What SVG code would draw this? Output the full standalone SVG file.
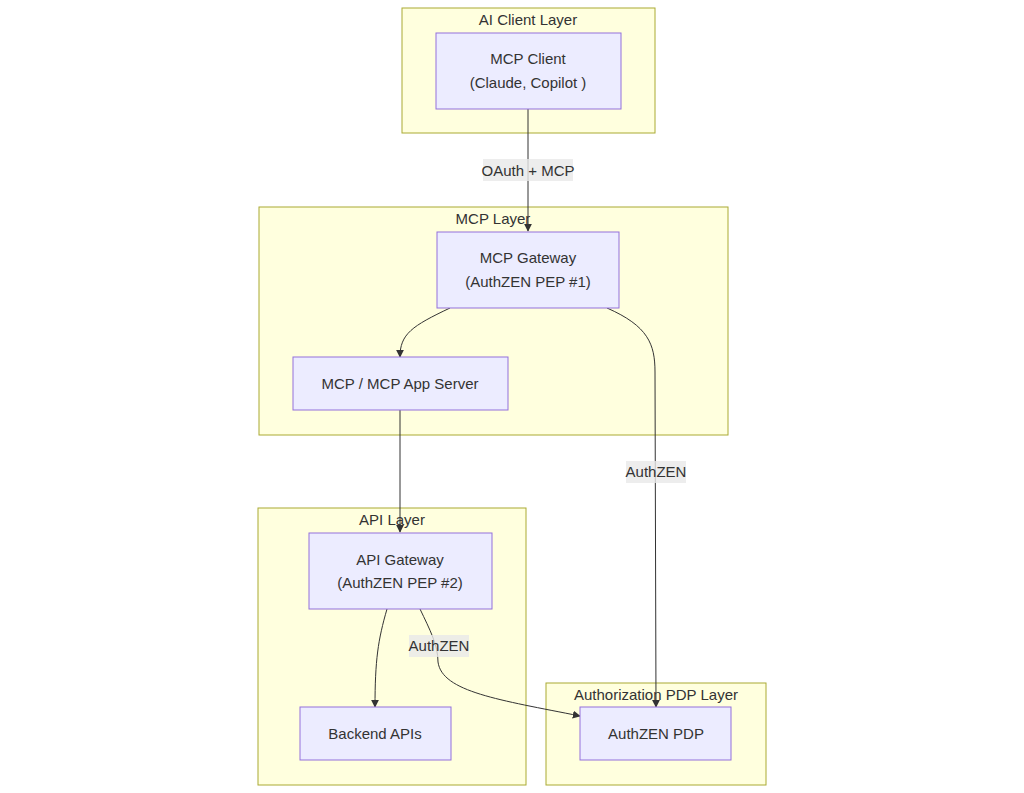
<svg xmlns="http://www.w3.org/2000/svg" width="1024" height="793" viewBox="0 0 1024 793">
<style>
.cluster{fill:#ffffde;stroke:#aaaa33;stroke-width:1}
.node{fill:#ECECFF;stroke:#9370DB;stroke-width:1}
text{font-family:"Liberation Sans",Arial,sans-serif;font-size:15px;fill:#333;text-anchor:middle;dominant-baseline:central}
.edge{fill:none;stroke:#333;stroke-width:1}
.lbl{fill:#e8e8e8;opacity:0.8}
</style>
<defs>
<marker id="arr" viewBox="0 0 10 10" refX="9" refY="5" markerWidth="8" markerHeight="8" markerUnits="userSpaceOnUse" orient="auto">
<path d="M0,0 L10,5 L0,10 z" fill="#333"/>
</marker>
</defs>
<g id="cluster-ai">
<rect class="cluster" x="402" y="8" width="253" height="125"/>
<text x="528" y="19">AI Client Layer</text>
</g>
<g id="cluster-mcp">
<rect class="cluster" x="259" y="207" width="469" height="228"/>
<text x="493" y="218">MCP Layer</text>
</g>
<g id="cluster-api">
<rect class="cluster" x="258" y="508" width="268" height="277"/>
<text x="392" y="519">API Layer</text>
</g>
<g id="cluster-pdp">
<rect class="cluster" x="546" y="683" width="220" height="102"/>
<text x="656" y="694">Authorization PDP Layer</text>
</g>
<g id="connectors">
<path class="edge" d="M528,109 L528,231" marker-end="url(#arr)"/>
<path class="edge" d="M450,308 C412,326 400,334 400,357" marker-end="url(#arr)"/>
<path class="edge" d="M607,308 C648,326 655,344 655,372 L656,707" marker-end="url(#arr)"/>
<path class="edge" d="M400,410 L400,532" marker-end="url(#arr)"/>
<path class="edge" d="M387,609 C378,640 375,660 375,707" marker-end="url(#arr)"/>
<path class="edge" d="M420,609 C430,630 438,645 438,662 C442,692 500,700 580,716" marker-end="url(#arr)"/>
<rect class="lbl" x="483" y="159" width="90" height="22"/>
<text x="528" y="170">OAuth + MCP</text>
<rect class="lbl" x="626" y="461" width="60" height="22"/>
<text x="656" y="471">AuthZEN</text>
<rect class="lbl" x="409" y="635" width="60" height="22"/>
<text x="439" y="645">AuthZEN</text>
</g>
<g id="mcp-client">
<rect class="node" x="436" y="33" width="185" height="76"/>
<text x="528" y="58">MCP Client</text>
<text x="528" y="82">(Claude, Copilot )</text>
</g>
<g id="mcp-gateway">
<rect class="node" x="437" y="232" width="182" height="76"/>
<text x="528" y="257">MCP Gateway</text>
<text x="528" y="281">(AuthZEN PEP #1)</text>
</g>
<g id="mcp-server">
<rect class="node" x="293" y="357" width="215" height="53"/>
<text x="400" y="383">MCP / MCP App Server</text>
</g>
<g id="api-gateway">
<rect class="node" x="309" y="533" width="183" height="76"/>
<text x="400" y="559">API Gateway</text>
<text x="400" y="582">(AuthZEN PEP #2)</text>
</g>
<g id="backend-apis">
<rect class="node" x="300" y="707" width="151" height="53"/>
<text x="375" y="733">Backend APIs</text>
</g>
<g id="authzen-pdp">
<rect class="node" x="580" y="707" width="151" height="53"/>
<text x="656" y="733">AuthZEN PDP</text>
</g>
</svg>
